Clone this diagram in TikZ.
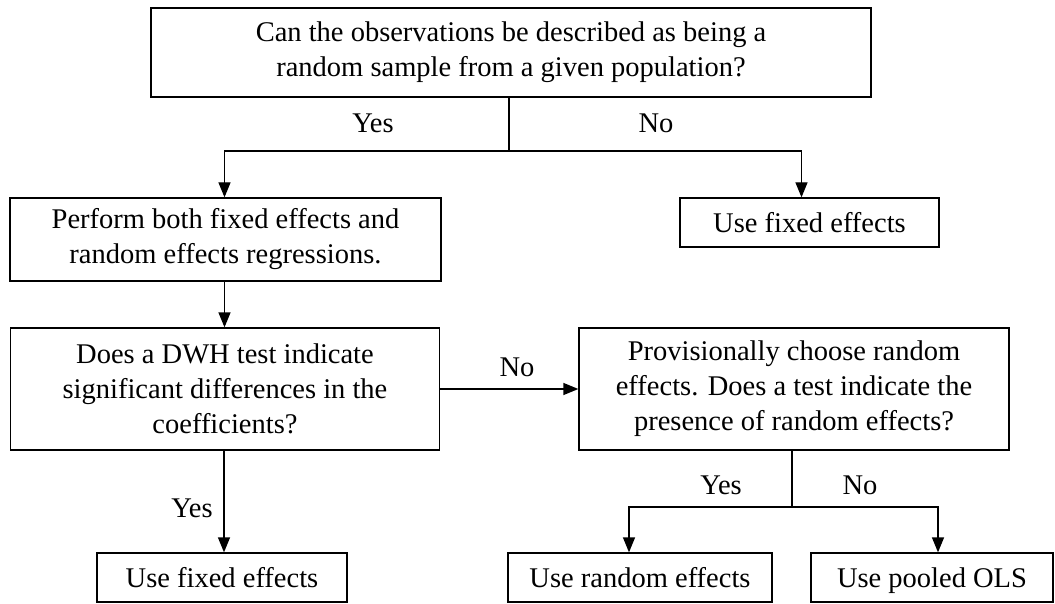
\documentclass[tikz,border=0pt]{standalone}
\usepackage{fontspec}
\setmainfont{Liberation Serif}
\usetikzlibrary{arrows.meta,calc}
\tikzset{
  box/.style={draw, line width=1.3pt, align=center, inner sep=0pt},
  onebox/.style={box, text height=20pt, text depth=0pt},
  lbl/.style={inner sep=0pt},
  conn/.style={line width=1.3pt},
  arr/.style={line width=1.3pt, -{Triangle[length=15pt,width=12pt]}},
}
\begin{document}
\begin{tikzpicture}[x=1pt, y=-1pt, font=\fontsize{28.5pt}{35pt}\selectfont]
\useasboundingbox (0,0) rectangle (1055,604);
\node[box, minimum width=720pt, minimum height=89pt] (top) at (511,52.5)
  {Can the observations be described as being a\\random sample from a given population?};
\node[box, minimum width=431pt, minimum height=83pt] (perform) at (225.5,239.5)
  {Perform both fixed effects and\\random effects regressions.};
\node[onebox, minimum width=259pt, minimum height=49pt] (fe1) at (809.5,222.5)
  {Use fixed effects};
\node[box, minimum width=429pt, minimum height=122pt] (dwh) at (225,389)
  {Does a DWH test indicate\\significant differences in the\\coefficients?};
\node[box, minimum width=430pt, minimum height=122pt] (prov) at (794,389)
  {Provisionally choose random\\effects. Does a test indicate the\\presence of random effects?};
\node[onebox, minimum width=250pt, minimum height=49pt] (fe2) at (222,577.5)
  {Use fixed effects};
\node[onebox, minimum width=264pt, minimum height=49pt] (re) at (640,577.5)
  {Use random effects};
\node[onebox, minimum width=242pt, minimum height=49pt] (ols) at (932,577.5)
  {Use pooled OLS};

\coordinate (j1) at (509,151);
\coordinate (j2) at (792,507);

\draw[conn] (top.south -| j1) -- (j1);
\draw[arr] (j1) -| ($(perform.north)+(-1,0)$);
\draw[arr] (j1) -| ($(fe1.north)+(-8,0)$);
\node[lbl] (yes1) at (373,123) {Yes};
\node[lbl] (no1) at (656,123) {No};

\draw[arr] ($(perform.south)+(-1,0)$) -- ($(dwh.north)+(-0.5,0)$);

\draw[arr] (dwh.east) -- (prov.west);
\node[lbl] (no2) at (517,367) {No};

\draw[arr] ($(dwh.south)+(-1,0)$) -- ($(fe2.north)+(2,0)$);
\node[lbl] (yes2) at (192,508) {Yes};

\draw[conn] (prov.south -| j2) -- (j2);
\draw[arr] (j2) -| ($(re.north)+(-11,0)$);
\draw[arr] (j2) -| ($(ols.north)+(6,0)$);
\node[lbl] (yes3) at (721,485) {Yes};
\node[lbl] (no3) at (860,485) {No};
\end{tikzpicture}
\end{document}
